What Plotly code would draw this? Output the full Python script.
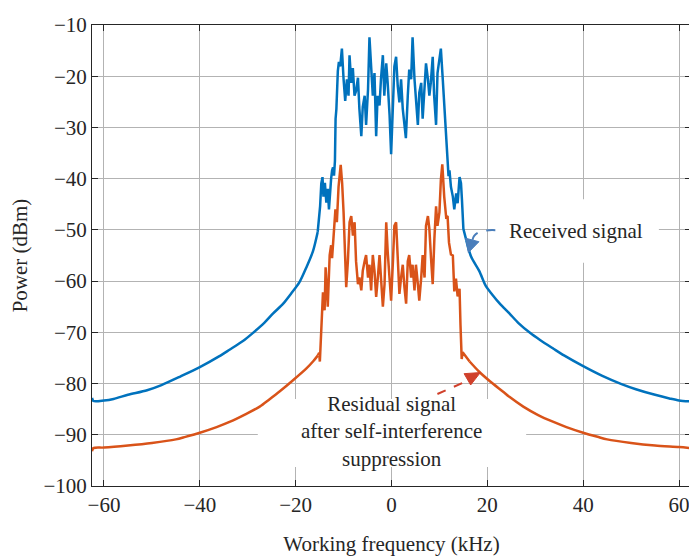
import plotly.graph_objects as go

# ---------------- data ----------------
freq_received = [
    -62.5, -62.2, -60.0, -58.0, -55.0, -51.0, -48.0, -44.0, -40.0, -36.0,
    -33.8, -31.0, -28.9, -26.5, -24.7, -22.6, -21.0, -19.2, -17.8, -16.4,
    -15.4, -14.9, -14.65, -14.4, -14.2, -13.9, -13.6, -13.3, -13.05, -12.8,
    -12.6, -12.4, -12.2, -12.0, -11.8, -11.67, -11.5, -11.2, -10.98, -10.7,
    -10.35, -10.0, -9.66, -9.3, -8.97, -8.76, -8.4, -8.07, -7.72, -7.4,
    -7.0, -6.7, -6.3, -6.0, -5.6, -5.3, -4.9, -4.6, -4.2, -3.9,
    -3.55, -3.2, -2.9, -2.5, -2.2, -1.8, -1.5, -1.1, -0.8, -0.4,
    -0.08, 0.26, 0.6, 0.96, 1.3, 1.65, 2.0, 2.35, 2.7, 3.0,
    3.4, 3.7, 4.1, 4.4, 4.8, 5.1, 5.5, 5.8, 6.2, 6.5,
    6.9, 7.2, 7.6, 7.9, 8.2, 8.6, 8.9, 9.3, 9.6, 10.0,
    10.3, 10.7, 11.0, 11.4, 11.7, 11.9, 12.1, 12.4, 12.8, 13.1,
    13.5, 13.8, 14.2, 14.5, 14.7, 15.0, 15.6, 16.6, 18.3, 19.7,
    21.0, 22.6, 24.6, 26.5, 28.9, 31.0, 33.8, 36.0, 40.0, 44.0,
    48.0, 51.0, 55.0, 58.0, 60.0, 62.5,
]
power_received = [
    -82.8, -83.4, -83.3, -83.0, -82.2, -81.3, -80.3, -78.6, -76.8, -74.7,
    -73.4, -71.7, -70.1, -68.1, -66.3, -64.4, -62.5, -60.2, -57.4, -54.2,
    -50.4, -45.4, -40.9, -39.7, -43.5, -40.8, -44.7, -42.0, -46.0, -41.4,
    -40.0, -38.4, -37.8, -39.4, -36.5, -28.3, -26.4, -19.0, -17.2, -18.1,
    -14.6, -20.6, -24.8, -20.6, -23.8, -15.9, -21.3, -18.4, -23.8, -22.9,
    -20.3, -26.4, -31.7, -26.0, -23.8, -29.5, -22.6, -12.4, -20.6, -23.8,
    -19.4, -31.7, -23.8, -25.7, -20.6, -15.9, -23.8, -17.5, -21.3, -27.6,
    -35.2, -27.0, -18.1, -16.2, -21.9, -25.1, -20.6, -26.4, -28.9, -32.1,
    -23.8, -18.7, -20.6, -12.4, -20.6, -23.8, -29.5, -23.2, -21.3, -28.3,
    -22.6, -17.5, -20.6, -23.8, -21.3, -16.2, -23.8, -29.5, -19.4, -16.8,
    -14.6, -20.6, -25.7, -30.2, -36.5, -39.5, -38.4, -41.6, -43.5, -46.0,
    -42.9, -44.8, -39.7, -40.9, -44.1, -49.8, -52.0, -55.2, -58.0, -61.0,
    -62.6, -64.4, -66.3, -68.2, -70.1, -71.5, -73.2, -74.5, -76.6, -78.5,
    -80.1, -81.1, -82.2, -82.9, -83.3, -83.5,
]

freq_residual = [
    -62.5, -62.2, -60.0, -55.0, -50.0, -45.0, -43.0, -40.0, -36.5, -33.8,
    -30.5, -27.5, -25.5, -23.3, -20.6, -17.8, -16.3, -15.35, -15.1, -14.95,
    -14.8, -14.65, -14.45, -14.3, -14.1, -13.96, -13.75, -13.6, -13.3, -12.9,
    -12.6, -12.4, -12.1, -11.7, -11.4, -11.05, -10.6, -10.3, -10.0, -9.65,
    -9.45, -9.1, -8.75, -8.4, -8.05, -7.7, -7.4, -7.0, -6.7, -6.3,
    -6.0, -5.6, -5.3, -4.9, -4.6, -4.25, -3.9, -3.55, -3.2, -2.85,
    -2.5, -2.2, -1.8, -1.45, -1.1, -0.8, -0.4, -0.08, 0.3, 0.6,
    0.96, 1.3, 1.65, 2.0, 2.35, 2.7, 3.05, 3.4, 3.7, 4.1,
    4.4, 4.8, 5.1, 5.5, 5.8, 6.2, 6.5, 6.9, 7.2, 7.6,
    7.9, 8.25, 8.6, 8.95, 9.3, 9.6, 10.0, 10.3, 10.6, 11.0,
    11.4, 11.7, 12.0, 12.4, 12.8, 13.1, 13.45, 13.8, 14.2, 14.4,
    14.65, 14.85, 16.3, 18.3, 20.6, 23.3, 24.6, 27.5, 30.5, 33.8,
    36.5, 40.0, 43.0, 45.0, 50.0, 55.0, 60.0, 62.5,
]
power_residual = [
    -93.2, -92.6, -92.5, -92.1, -91.6, -90.9, -90.4, -89.6, -88.5, -87.5,
    -86.0, -84.5, -83.1, -81.5, -79.4, -77.1, -75.6, -74.5, -74.0, -75.7,
    -72.0, -69.4, -66.0, -62.2, -64.4, -65.7, -57.3, -60.6, -65.0, -54.9,
    -53.0, -55.5, -51.1, -46.0, -48.5, -41.6, -37.3, -40.9, -46.6, -54.2,
    -61.2, -56.1, -48.5, -47.3, -51.1, -48.5, -56.1, -60.6, -59.3, -61.8,
    -58.0, -56.1, -54.9, -59.3, -56.8, -61.8, -54.9, -58.0, -63.1, -59.3,
    -54.9, -59.3, -65.0, -60.6, -48.5, -54.2, -60.6, -63.8, -56.1, -49.2,
    -48.5, -55.5, -62.5, -59.3, -56.8, -61.2, -64.4, -56.1, -54.9, -59.3,
    -56.8, -61.8, -56.8, -60.6, -63.8, -59.3, -54.9, -59.3, -49.2, -47.3,
    -49.8, -55.5, -60.6, -51.7, -45.4, -49.2, -46.6, -40.3, -37.2, -43.5,
    -47.5, -47.3, -52.5, -54.8, -55.0, -62.0, -59.5, -63.0, -61.5, -68.6,
    -75.2, -73.9, -75.7, -77.7, -79.6, -81.6, -82.6, -84.5, -86.1, -87.5,
    -88.5, -89.6, -90.4, -90.9, -91.6, -92.1, -92.4, -92.6,
]

x_tick_values = [-60, -40, -20, 0, 20, 40, 60]
x_tick_labels = ["\u221260", "\u221240", "\u221220", "0", "20", "40", "60"]
y_tick_values = [-100, -90, -80, -70, -60, -50, -40, -30, -20, -10]
y_tick_labels = ["\u2212100", "\u221290", "\u221280", "\u221270", "\u221260",
                 "\u221250", "\u221240", "\u221230", "\u221220", "\u221210"]

label_received = "Received signal"
label_residual = "Residual signal<br>after self-interference<br>suppression"

# ---------------- styling ----------------
FONT = "Liberation Serif"
BLUE = "#0072BD"
ORANGE = "#D95319"
AX = "#262626"
GRID = "#b3b3b3"
FS = 21
BAND_EDGE = 15.3  # |f| beyond which the spectrum is a smooth skirt


def add_spectrum(fig, freqs, powers, color):
    """Smooth skirts drawn as splines, the noisy band drawn as straight segments."""
    left = [i for i, f in enumerate(freqs) if f <= -BAND_EDGE]
    right = [i for i, f in enumerate(freqs) if f >= BAND_EDGE]
    i0, i1 = left[-1], right[0]
    segments = [
        (range(0, i0 + 1), "spline"),
        (range(i0, i1 + 1), "linear"),
        (range(i1, len(freqs)), "spline"),
    ]
    for idx, shape in segments:
        fig.add_trace(go.Scatter(
            x=[freqs[i] for i in idx], y=[powers[i] for i in idx], mode="lines",
            line=dict(color=color, width=2.5, shape=shape, smoothing=0.8),
            hoverinfo="skip"))


fig = go.Figure()
add_spectrum(fig, freq_received, power_received, BLUE)
add_spectrum(fig, freq_residual, power_residual, ORANGE)

axis_common = dict(
    showline=True, linecolor=AX, linewidth=1, mirror="ticks",
    ticks="inside", ticklen=6, tickcolor=AX, tickwidth=1,
    showgrid=True, gridcolor=GRID, gridwidth=1, zeroline=False,
    tickfont=dict(family=FONT, size=FS, color=AX),
    ticklabeloverflow="allow",
)

# the page body adds an 8 px offset, so the figure is 8 px smaller
fig.update_layout(
    width=689, height=549,
    margin=dict(l=84, r=5, t=6, b=69),
    paper_bgcolor="white", plot_bgcolor="white",
    showlegend=False,
    font=dict(family=FONT, color=AX),
    xaxis=dict(range=[-62.5, 62.5], tickvals=x_tick_values, ticktext=x_tick_labels,
               title=dict(text="Working frequency (kHz)", font=dict(family=FONT, size=FS, color=AX),
                          standoff=20),
               **axis_common),
    yaxis=dict(range=[-100, -10], tickvals=y_tick_values, ticktext=y_tick_labels,
               title=dict(text="Power (dBm)", font=dict(family=FONT, size=FS, color=AX),
                          standoff=10),
               **axis_common),
)

# white boxes behind the labels (cover the grid, stay under the curves)
fig.add_shape(type="rect", xref="x", yref="y", x0=21.5, x1=55.8, y0=-56.4, y1=-44.0,
              fillcolor="white", line=dict(width=0), layer="between")
fig.add_shape(type="rect", xref="x", yref="y", x0=-27.9, x1=28.1, y0=-96.3, y1=-83.0,
              fillcolor="white", line=dict(width=0), layer="between")

# labels
fig.add_annotation(x=38.5, y=-50.2, xref="x", yref="y", text=label_received,
                   showarrow=False, font=dict(family=FONT, size=FS, color=AX))
fig.add_annotation(x=0, y=-89.3, xref="x", yref="y", text=label_residual,
                   showarrow=False, align="center", font=dict(family=FONT, size=FS, color=AX))

# dashed arrows
ARROW_BLUE = "#4a7ebb"
ARROW_RED = "#d0402b"
fig.add_shape(type="path", xref="x", yref="y",
              path="M 21.67,-50.06 Q 17.08,-49.87 16.88,-52.15",
              line=dict(color=ARROW_BLUE, width=2, dash="dash"), layer="above")
fig.add_shape(type="path", xref="x", yref="y",
              path="M 16.04,-54.43 L 18.24,-52.31 L 15.47,-51.63 Z",
              fillcolor=ARROW_BLUE, line=dict(color=ARROW_BLUE, width=1), layer="above")
fig.add_shape(type="line", xref="x", yref="y", x0=9.58, y0=-82.04, x1=16.04, y1=-79.38,
              line=dict(color=ARROW_RED, width=2, dash="dash"), layer="above")
fig.add_shape(type="path", xref="x", yref="y",
              path="M 18.54,-77.86 L 16.52,-80.28 L 15.15,-78.07 Z",
              fillcolor=ARROW_RED, line=dict(color=ARROW_RED, width=1), layer="above")

fig.write_html("out.html")
